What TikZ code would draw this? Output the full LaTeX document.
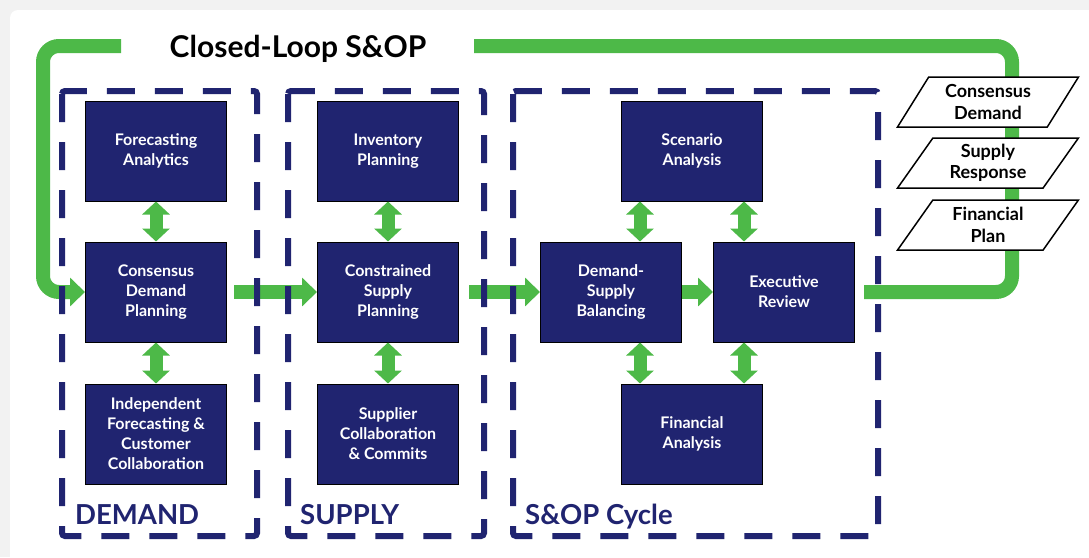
\documentclass[tikz,border=0pt]{standalone}
\usepackage{fontspec}
\setmainfont{Lato}
\usetikzlibrary{arrows.meta, shapes.geometric}
\definecolor{navy}{RGB}{32,36,112}
\definecolor{loopgreen}{RGB}{77,185,72}
\tikzset{
	stage/.style={rectangle, draw=black, line width=1pt, fill=navy,
		text=white, align=center, inner sep=2pt,
		font=\fontsize{16}{20}\selectfont\bfseries,
		minimum width=141pt, minimum height=100pt},
	report/.style={trapezium, trapezium left angle=57, trapezium right angle=123,
		trapezium stretches=true, draw=black, line width=1.5pt, fill=white,
		align=center, inner sep=0pt, font=\fontsize{18}{21.5}\selectfont\bfseries,
		minimum width=181pt, minimum height=50pt},
	lane/.style={draw=navy, line width=6pt, dash pattern=on 28pt off 20pt,
		rounded corners=3pt},
	lanelabel/.style={text=navy, anchor=base west, inner sep=0pt,
		font=\fontsize{27.5}{28}\selectfont\bfseries},
	flow/.style={draw=loopgreen, line width=14pt,
		-{Triangle[width=28pt,length=15pt]}},
	link/.style={draw=loopgreen, line width=13pt,
		{Triangle[width=27pt,length=13pt]}-{Triangle[width=27pt,length=13pt]}},
	loopline/.style={draw=loopgreen, line width=14pt, rounded corners=16pt},
}
\begin{document}
\begin{tikzpicture}[x=1pt, y=-1pt]
	\useasboundingbox (0,0) rectangle (1089,557);
	% page and card
	\fill[gray!10] (0,0) rectangle (1089,557);
	\fill[white, rounded corners=8pt] (10,10) rectangle (1110,580);

	% demand column
	\node[stage] (fa) at (156,151) {Forecasting\\Analytics};
	\node[stage] (cdp) at (156,292) {Consensus\\Demand\\Planning};
	\node[stage] (ifc) at (156,434) {Independent\\Forecasting \&\\Customer\\Collaboration};
	% supply column
	\node[stage] (ip) at (388,151) {Inventory\\Planning};
	\node[stage] (csp) at (388,292) {Constrained\\Supply\\Planning};
	\node[stage] (sc) at (388,434) {Supplier\\Collaboration\\\& Commits};
	% s&op cycle
	\node[stage] (sa) at (692,151) {Scenario\\Analysis};
	\node[stage] (dsb) at (611,292) {Demand-\\Supply\\Balancing};
	\node[stage] (er) at (784,292) {Executive\\Review};
	\node[stage] (fan) at (692,434) {Financial\\Analysis};

	\node[anchor=base, font=\fontsize{30}{30}\selectfont\bfseries] (title) at (298,57) {Closed-Loop S\&OP};

	% closed loop
	\coordinate (gapL) at (121,46);
	\coordinate (cornerL) at (43,46);
	\coordinate (gapR) at (474,46);
	\coordinate (cornerR) at (1012,46);
	\draw[loopline] ([xshift=9pt]er.east) -| (cornerR) -- (gapR);
	\draw[loopline, -{Triangle[width=28pt,length=15pt]}] (gapL) -- (cornerL) |- (cdp.west);

	% flows between columns
	\draw[flow] ([xshift=7pt]cdp.east) -- (csp.west);
	\draw[flow] ([xshift=10pt]csp.east) -- (dsb.west);
	\draw[flow] (dsb.east) -- (er.west);

	% links inside columns
	\draw[link] (fa) -- (cdp);
	\draw[link] (cdp) -- (ifc);
	\draw[link] (ip) -- (csp);
	\draw[link] (csp) -- (sc);
	\draw[link] ([xshift=-52pt]sa.south) -- ([xshift=29pt]dsb.north);
	\draw[link] ([xshift=52pt]sa.south) -- ([xshift=-40pt]er.north);
	\draw[link] ([xshift=29pt]dsb.south) -- ([xshift=-52pt]fan.north);
	\draw[link] ([xshift=-40pt]er.south) -- ([xshift=52pt]fan.north);

	% dashed columns
	\draw[lane] (62,91) rectangle (257,536);
	\draw[lane] (288,91) rectangle (484,536);
	\draw[lane] (513,91) rectangle (878,536);
	\node[lanelabel] (demand) at (75,524) {DEMAND};
	\node[lanelabel] (supply) at (300,524) {SUPPLY};
	\node[lanelabel] (cycle) at (525,524) {S\&OP Cycle};

	% outputs of the loop
	\node[report] (cd) at (988,102) {Consensus\\Demand};
	\node[report] (sr) at (988,163) {Supply\\Response};
	\node[report] (fp) at (988,225) {Financial\\Plan};
\end{tikzpicture}
\end{document}
